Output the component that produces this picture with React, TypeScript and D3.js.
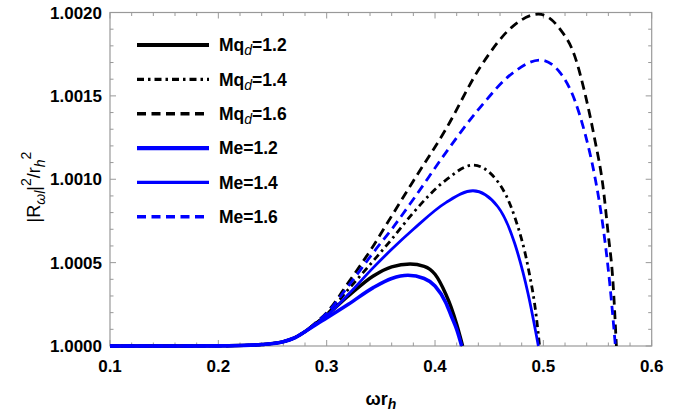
import React from "react";
import * as d3 from "d3";

// ---- data (omega r_h, |R|^2/r_h^2) ----
const xTicks = [0.1, 0.2, 0.3, 0.4, 0.5, 0.6];
const xTickLabels = ["0.1", "0.2", "0.3", "0.4", "0.5", "0.6"];
const yTicks = [1.0, 1.0005, 1.001, 1.0015, 1.002];
const yTickLabels = ["1.0000", "1.0005", "1.0010", "1.0015", "1.0020"];

const xBase = [0.1, 0.15, 0.2, 0.22, 0.24, 0.26, 0.27, 0.28];
const yBase = [1.0, 1.0, 1.0000005, 1.000003, 1.000009, 1.000026, 1.000048, 1.000086];

const xMq12 = [0.29, 0.30, 0.32, 0.343, 0.36, 0.377, 0.39, 0.40, 0.41, 0.415, 0.42, 0.4255];
const yMq12 = [1.000134, 1.000185, 1.0003, 1.00042, 1.000475, 1.000492, 1.000478, 1.00043, 1.00031, 1.00023, 1.00013, 1.0];

const xMq14 = [0.29, 0.30, 0.32, 0.343, 0.36, 0.38, 0.41, 0.435, 0.458, 0.4735, 0.4858, 0.4935, 0.4965];
const yMq14 = [1.000136, 1.00019, 1.00034, 1.00051, 1.00064, 1.0008, 1.000995, 1.001085, 1.000985, 1.000775, 1.000476, 1.000176, 1.0];

const xMq16 = [0.29, 0.30, 0.32, 0.343, 0.36, 0.38, 0.41, 0.4415, 0.4723, 0.4954, 0.5154, 0.5289, 0.5382, 0.5474, 0.555, 0.5597, 0.5643, 0.5674];
const yMq16 = [1.00014, 1.0002, 1.00038, 1.0006, 1.00078, 1.00099, 1.0013, 1.00167, 1.00192, 1.00199, 1.0019, 1.00174, 1.00152, 1.00124, 1.00096, 1.00068, 1.00038, 1.0];

const xMe12 = [0.29, 0.30, 0.32, 0.343, 0.36, 0.375, 0.39, 0.40, 0.41, 0.415, 0.42, 0.4246];
const yMe12 = [1.000128, 1.000168, 1.00025, 1.00035, 1.000405, 1.000424, 1.000405, 1.00036, 1.00026, 1.00018, 1.0001, 1.0];

const xMe14 = [0.29, 0.30, 0.32, 0.343, 0.36, 0.38, 0.41, 0.435, 0.458, 0.4735, 0.4858, 0.4954];
const yMe14 = [1.000132, 1.000182, 1.00031, 1.00047, 1.00058, 1.0007, 1.00086, 1.000931, 1.000835, 1.000616, 1.000316, 1.0];

const xMe16 = [0.29, 0.30, 0.32, 0.343, 0.36, 0.38, 0.41, 0.4415, 0.4723, 0.497, 0.5154, 0.5289, 0.5382, 0.5474, 0.555, 0.5612, 0.5665];
const yMe16 = [1.000138, 1.000196, 1.00036, 1.00056, 1.0007, 1.00088, 1.00116, 1.00143, 1.00164, 1.001715, 1.00164, 1.001475, 1.00128, 1.00102, 1.00072, 1.00038, 1.0];

const seriesNames = ["Mq12", "Mq14", "Mq16", "Me12", "Me14", "Me16"];
const legendMain = ["Mq", "Mq", "Mq", "Me=1.2", "Me=1.4", "Me=1.6"];
const legendSub = ["d", "d", "d", "", "", ""];
const legendTail = ["=1.2", "=1.4", "=1.6", "", "", ""];

const W = 693;
const H = 412;
const L = 110, R = 651.7, T = 12.5, B = 346;

const styles: Record<string, { color: string; width: number; dash?: string }> = {
  Mq12: { color: "#000", width: 3.4 },
  Mq14: { color: "#000", width: 2.8, dash: "7,4,2.5,4" },
  Mq16: { color: "#000", width: 2.8, dash: "9,5.5" },
  Me12: { color: "#0000ff", width: 3.6 },
  Me14: { color: "#0000ff", width: 2.8 },
  Me16: { color: "#0000ff", width: 2.8, dash: "9,5.5" },
};

export default function App() {
  const x = d3.scaleLinear().domain([0.1, 0.6]).range([L, R]);
  const y = d3.scaleLinear().domain([1.0, 1.002]).range([B, T]);
  const line = d3
    .line<[number, number]>()
    .x((d) => x(d[0]))
    .y((d) => y(d[1]))
    .curve(d3.curveMonotoneX);

  const mk = (xs: number[], ys: number[]) => {
    const pts: [number, number][] = xBase.map((v, i) => [v, yBase[i]]);
    xs.forEach((v, i) => pts.push([v, ys[i]]));
    return pts;
  };
  const data: Record<string, [number, number][]> = {
    Mq12: mk(xMq12, yMq12),
    Mq14: mk(xMq14, yMq14),
    Mq16: mk(xMq16, yMq16),
    Me12: mk(xMe12, yMe12),
    Me14: mk(xMe14, yMe14),
    Me16: mk(xMe16, yMe16),
  };

  const xMinor = d3.range(0, 26).map((i) => 0.1 + i * 0.02);
  const yMinor = d3.range(0, 21).map((i) => 1 + i * 0.0001);
  const font = "'Liberation Sans', Arial, sans-serif";
  const axisColor = "#999";

  return (
    <svg width={W} height={H} style={{ position: "absolute", left: 0, top: 0, background: "#fff" }} fontFamily={font}>
      <defs>
        <clipPath id="plotclip">
          <rect x={L} y={T - 3} width={R - L} height={B - T + 6} />
        </clipPath>
      </defs>
      {/* frame */}
      <rect x={L} y={T} width={R - L} height={B - T} fill="none" stroke={axisColor} strokeWidth={1.2} />
      {/* ticks */}
      {xMinor.map((v, i) => {
        const major = i % 5 === 0;
        const len = major ? 6 : 3.5;
        return (
          <g key={"xt" + i}>
            <line x1={x(v)} x2={x(v)} y1={B} y2={B - len} stroke={axisColor} strokeWidth={1} />
            <line x1={x(v)} x2={x(v)} y1={T} y2={T + len} stroke={axisColor} strokeWidth={1} />
          </g>
        );
      })}
      {yMinor.map((v, i) => {
        const major = i % 5 === 0;
        const len = major ? 6 : 3.5;
        return (
          <g key={"yt" + i}>
            <line x1={L} x2={L + len} y1={y(v)} y2={y(v)} stroke={axisColor} strokeWidth={1} />
            <line x1={R} x2={R - len} y1={y(v)} y2={y(v)} stroke={axisColor} strokeWidth={1} />
          </g>
        );
      })}
      {xTicks.map((v, i) => (
        <text key={"xl" + i} x={x(v)} y={372} textAnchor="middle" fontSize={17} fontWeight="bold" fill="#000">
          {xTickLabels[i]}
        </text>
      ))}
      {yTicks.map((v, i) => (
        <text key={"yl" + i} x={102} y={y(v) + 6} textAnchor="end" fontSize={17} fontWeight="bold" fill="#000">
          {yTickLabels[i]}
        </text>
      ))}
      {/* axis titles */}
      <text x={381} y={405} textAnchor="middle" fontSize={18} fontWeight="bold" fill="#000">
        ωr<tspan fontSize={14} fontStyle="italic" dy={4}>h</tspan>
      </text>
      <text transform="translate(40,187) rotate(-90)" textAnchor="middle" fontSize={18} fill="#000">
        |R<tspan fontSize={14} fontStyle="italic" dy={5}>ωl</tspan>
        <tspan dy={-5}>|</tspan>
        <tspan fontSize={14} dy={-9}>2</tspan>
        <tspan dy={9}>/r</tspan>
        <tspan fontSize={14} fontStyle="italic" dy={5}>h</tspan>
        <tspan fontSize={14} dy={-14}>2</tspan>
      </text>
      {/* curves */}
      <g clipPath="url(#plotclip)">
        {seriesNames.map((n) => (
          <path
            key={n}
            d={line(data[n]) || ""}
            fill="none"
            stroke={styles[n].color}
            strokeWidth={styles[n].width}
            strokeDasharray={styles[n].dash}
            strokeLinejoin="round"
          />
        ))}
      </g>
      {/* legend */}
      {seriesNames.map((n, i) => {
        const ly = 45 + i * 34.35;
        return (
          <g key={"lg" + n}>
            <line x1={137} x2={209} y1={ly} y2={ly} stroke={styles[n].color} strokeWidth={styles[n].width + 0.6} strokeDasharray={styles[n].dash} />
            <text x={219} y={ly + 6.3} fontSize={17.5} fontWeight="bold" fill="#000">
              {legendMain[i]}
              {legendSub[i] ? (
                <>
                  <tspan fontSize={14} fontStyle="italic" fontWeight="normal" dy={4}>{legendSub[i]}</tspan>
                  <tspan dy={-4}>{legendTail[i]}</tspan>
                </>
              ) : null}
            </text>
          </g>
        );
      })}
    </svg>
  );
}
